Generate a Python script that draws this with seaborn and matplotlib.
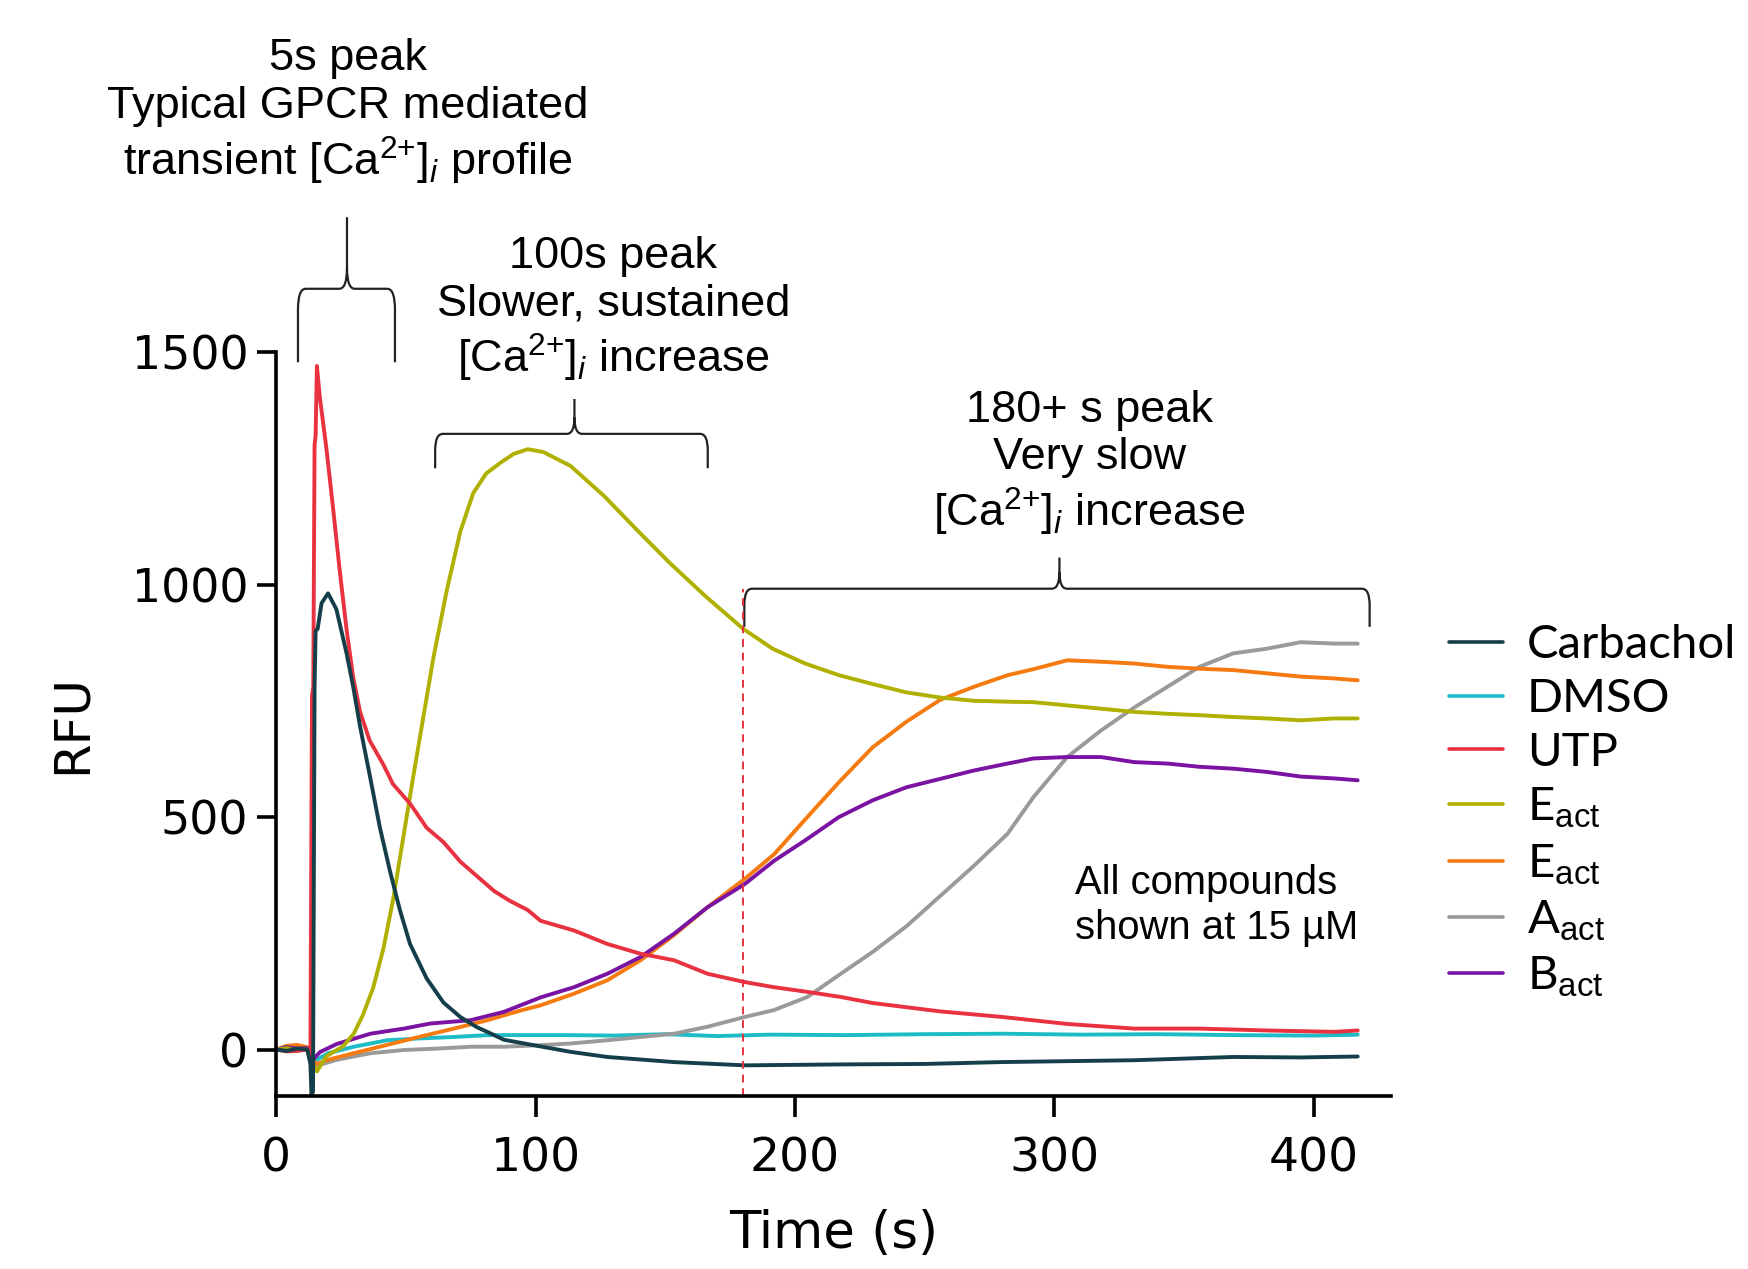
import numpy as np
import pandas as pd
import seaborn as sns
import matplotlib.pyplot as plt
from matplotlib.path import Path
from matplotlib.patches import PathPatch

# traces (time in s, RFU)
carb_t = [0, 4, 8, 12, 13.2, 13.6, 14.2, 14.8, 15.2, 16.0, 17.5, 20, 23.2, 27.1, 29.7, 32.3, 36, 40,
          43.9, 47.7, 51.6, 58, 64.5, 71, 77.4, 81.4, 87.8, 100.6, 113.5, 127.7, 153.4, 180.7, 217.7,
          250, 279.5, 305, 331, 369, 395, 417]
carb_y = [0, -3, 2, 0, -30, -100, -90, 780, 900, 905, 960, 981, 947, 853, 780, 696, 592, 477,
          383, 300, 227, 153, 101, 70, 48, 38, 21, 8, -5, -16, -27, -34, -32,
          -31, -27, -25, -23, -16, -17, -15]

dmso_t = [0, 4, 8, 12, 13.2, 15.7, 20, 29.9, 42.8, 55.7, 68.5, 81.4, 94.3, 113.5, 130, 150, 170,
          190, 220, 250, 280, 310, 340, 370, 400, 417]
dmso_y = [0, 2, -2, 0, -10, -22, -8, 6, 20, 24, 27, 31, 31, 31, 30, 33, 29,
          32, 31, 33, 34, 32, 33, 31, 30, 32]

utp_t = [0, 4, 8, 12, 13.2, 13.8, 14.3, 14.8, 15.2, 15.7, 16.8, 19.4, 21.9, 24.5, 27.1, 29.7, 32.3,
         36, 41.3, 45, 51.6, 58, 64.5, 71, 77.4, 84, 90, 97, 101.9, 114.8, 127.7, 140.5, 153.4,
         166.3, 180.7, 192, 204.8, 217.7, 230, 256, 280, 305, 331, 356, 382, 408, 417]
utp_y = [0, -4, -3, 0, -20, 760, 780, 1300, 1320, 1470, 1404, 1291, 1166, 1030, 905, 800, 727,
         665, 613, 571, 529, 477, 446, 404, 373, 341, 320, 300, 277, 256, 227, 206, 192,
         163, 145, 134, 124, 113, 100, 82, 70, 55, 45, 45, 41, 38, 41]

eact1_t = [0, 4, 8, 12, 13.2, 15.7, 19.4, 23.4, 25.8, 29.9, 33.5, 37.4, 41.3, 45, 49, 53, 56.8,
           60.6, 65.8, 71, 76, 81, 86.5, 91.6, 97, 103, 113.5, 126.5, 139.5, 152, 165.5, 180,
           191.4, 204, 217, 230, 243, 256, 269, 282, 292, 305, 318, 331, 343.6, 356, 369, 382,
           395, 408, 417]
eact1_y = [0, 3, -2, 0, -25, -47, -14, -1, 7, 34, 75, 133, 216, 320, 456, 592, 717,
           842, 988, 1114, 1197, 1239, 1262, 1281, 1291, 1285, 1255, 1190, 1115, 1045, 975, 905,
           862, 830, 805, 786, 768, 757, 750, 748, 747, 740, 733, 726, 722, 719, 715, 712,
           708, 712, 712]

eact2_t = [0, 4, 8, 12, 13.2, 15.7, 20, 29.9, 42.8, 55.7, 68.5, 81.4, 94.3, 101.9, 114.8, 127.7,
           140.5, 153.4, 166.3, 180.7, 192, 204, 217, 230, 243, 256, 269, 282, 292, 305, 318, 331,
           343.6, 356, 369, 382, 395, 408, 417]
eact2_y = [0, 8, 10, 5, -20, -31, -22, -8, 10, 28, 45, 63, 84, 95, 120, 149,
           192, 246, 306, 367, 420, 495, 575, 650, 705, 752, 780, 805, 818, 837, 834, 830,
           823, 819, 816, 809, 802, 798, 794]

aact_t = [0, 4, 8, 12, 13.2, 14.4, 23.4, 36.3, 49.2, 62, 74.9, 87.8, 100.6, 113.5, 127.7, 153.4,
          166.3, 180.7, 192, 204.8, 217.7, 230, 243, 256, 269, 282, 292, 305, 318, 331, 343.6,
          356, 369, 382, 395, 408, 417]
aact_y = [0, 3, -2, 0, -30, -37, -22, -8, -1, 2, 6, 6, 9, 13, 20, 34,
          49, 70, 85, 113, 163, 210, 265, 330, 395, 464, 543, 629, 686, 736, 780,
          823, 852, 862, 876, 873, 873]

bact_t = [0, 4, 8, 12, 13.2, 14.4, 17, 23.4, 36.3, 49.2, 59.5, 74.9, 87.8, 101.9, 114.8, 127.7,
          140.5, 153.4, 166.3, 180.7, 192, 204, 217, 230, 243, 256, 269, 282, 292, 305, 318, 331,
          343.6, 356, 369, 382, 395, 408, 417]
bact_y = [0, 5, 2, 3, -10, -20, -5, 12, 34, 45, 56, 63, 81, 112, 134, 163,
          199, 249, 306, 356, 406, 450, 500, 536, 564, 582, 600, 615, 626, 629, 629, 618,
          615, 608, 604, 597, 587, 583, 579]

labels = ["Carbachol", "DMSO", "UTP", r"E$_{\mathrm{act}}$", r"E$_{\mathrm{act}}$",
          r"A$_{\mathrm{act}}$", r"B$_{\mathrm{act}}$"]
colors = ["#143f4a", "#1dbcc7", "#e8323f", "#b0b000", "#f57a10", "#9a9a9a", "#7a12a2"]
series = [(carb_t, carb_y), (dmso_t, dmso_y), (utp_t, utp_y), (eact1_t, eact1_y),
          (eact2_t, eact2_y), (aact_t, aact_y), (bact_t, bact_y)]
draw_order = [1, 5, 4, 6, 3, 2, 0]

marker_time = 180

sns.set_style("ticks")
plt.rcParams["font.family"] = ["DejaVu Sans"]
plt.rcParams["text.color"] = "black"
plt.rcParams["axes.labelcolor"] = "black"
plt.rcParams["xtick.color"] = "black"
plt.rcParams["ytick.color"] = "black"
plt.rcParams["mathtext.fontset"] = "custom"
plt.rcParams["mathtext.rm"] = "Liberation Sans"
plt.rcParams["mathtext.it"] = "Liberation Sans:italic"
plt.rcParams["mathtext.bf"] = "Liberation Sans:bold"

fig = plt.figure(figsize=(17.48, 12.69), dpi=100)
ax = fig.add_axes([0.158, 0.1363, 0.638, 0.5863])

handles = {}
for i in draw_order:
    t, y = series[i]
    sns.lineplot(x=t, y=y, color=colors[i], lw=2.8, estimator=None, ax=ax, label=f"s{i}")
    handles[i] = ax.get_lines()[-1]

ax.set_xlim(0, 430)
ax.set_ylim(-100, 1500)
ax.set_xticks([0, 100, 200, 300, 400])
ax.set_yticks([0, 500, 1000, 1500])
sns.despine(ax=ax)
for s in ["left", "bottom"]:
    ax.spines[s].set_linewidth(2.6)
    ax.spines[s].set_color("black")
ax.tick_params(axis="y", length=14, width=2.6, labelsize=33, pad=6, colors="black")
ax.tick_params(axis="x", length=15, width=2.6, labelsize=34, pad=14, colors="black")
ax.set_xlabel("Time (s)", fontsize=37, labelpad=20)
ax.set_ylabel("RFU", fontsize=36, labelpad=26)

# dashed marker at 180 s
ax.vlines(marker_time, -100, 990, colors="#e8323f", linestyles=(0, (4, 3)), lw=1.4)


def brace(x0, x1, xc, ybot, ybar, ytip, rx, ry):
    verts = [(x0, ybot), (x0, ybar - ry), (x0, ybar), (x0 + rx, ybar),
             (xc - rx, ybar), (xc, ybar), (xc, ybar + ry), (xc, ytip),
             (xc, ybar + ry), (xc, ybar), (xc + rx, ybar),
             (x1 - rx, ybar), (x1, ybar), (x1, ybar - ry), (x1, ybot)]
    codes = [Path.MOVETO, Path.LINETO, Path.CURVE3, Path.CURVE3,
             Path.LINETO, Path.CURVE3, Path.CURVE3, Path.LINETO,
             Path.MOVETO, Path.CURVE3, Path.CURVE3,
             Path.LINETO, Path.CURVE3, Path.CURVE3, Path.LINETO]
    patch = PathPatch(Path(verts, codes), fill=False, lw=1.6, edgecolor="#222222",
                      clip_on=False)
    ax.add_patch(patch)


brace(8.4, 45.8, 27.3, 1478, 1636, 1790, 3, 45)
brace(61.3, 166.4, 115, 1250, 1324, 1399, 3, 35)
brace(180.5, 421.6, 302, 909, 991, 1058, 3, 35)

ca = r"[Ca$^{2{+}}$]$_i$"
note_kw = dict(family="Liberation Sans", fontsize=32.5, ha="center", va="center",
               linespacing=1.2, clip_on=False, color="black")
ax.text(27.7, 2015, "5s peak\nTypical GPCR mediated\ntransient " + ca + " profile", **note_kw)
ax.text(130, 1590, "100s peak\nSlower, sustained\n" + ca + " increase", **note_kw)
ax.text(313.5, 1259, "180+ s peak\nVery slow\n" + ca + " increase", **note_kw)
ax.text(308, 310, "All compounds\nshown at 15 µM", family="Liberation Sans", fontsize=28.8,
        ha="left", va="center", linespacing=1.25, color="black")

leg = ax.legend([handles[i] for i in range(7)], labels, loc="upper left",
                bbox_to_anchor=(0.829, 0.508), bbox_transform=fig.transFigure,
                frameon=False, prop={"family": "Lato", "size": 34},
                handlelength=1.15, handletextpad=0.5, labelspacing=0.25, borderpad=0,
                borderaxespad=0)
for line in leg.get_lines():
    line.set_linewidth(2.6)

fig.savefig("out.png", dpi=100)
